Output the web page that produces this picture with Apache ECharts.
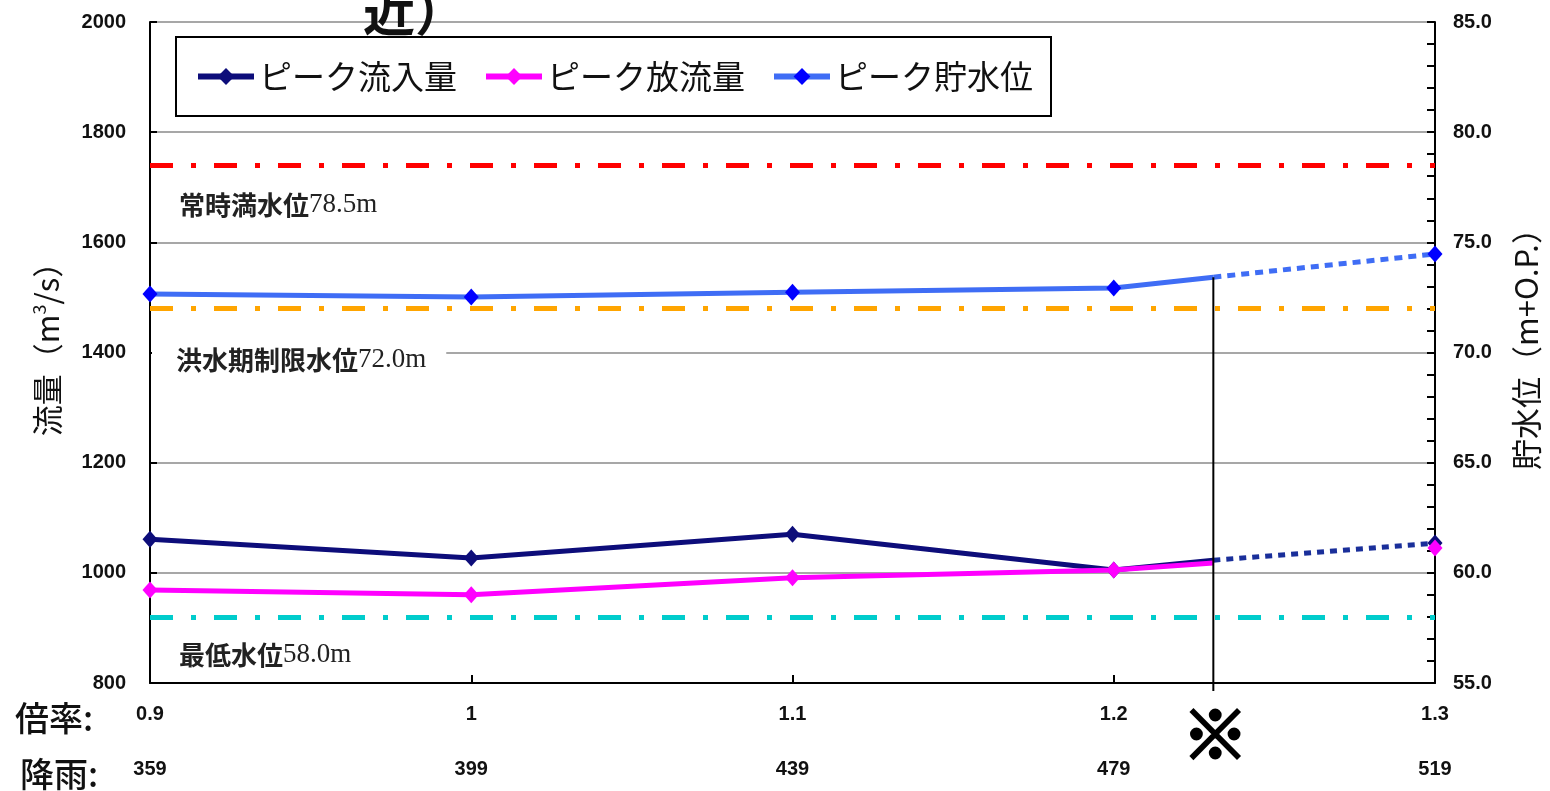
<!DOCTYPE html>
<html>
<head>
<meta charset="utf-8">
<script src="https://cdn.jsdelivr.net/npm/echarts@6/dist/echarts.min.js"></script>
<style>
  html, body { margin: 0; padding: 0; background: #fff; }
  #chart { width: 1550px; height: 791px; }
</style>
</head>
<body>
<div id="chart"></div>
<script>
// Rainfall multiplier ticks and the matching rainfall totals
const ratioTicks = [0.9, 1.0, 1.1, 1.2, 1.3];
const rainfallTicks = [359, 399, 439, 479, 519];

// Points along the x axis; index 4 is the ※ limit case
const xPoints = [0.9, 1.0, 1.1, 1.2, 1.231, 1.3];
const limitIndex = 4;

// Peak values (m3/s for flows, m+O.P. for reservoir level)
const inflowPeak  = [1061, 1027, 1070, 1005, 1023, 1054];
const outflowPeak = [969, 960, 991, 1005, 1018, 1045];
const levelPeak   = [72.65, 72.52, 72.74, 72.93, 73.42, 74.47];

// Reference water levels
const refNames  = ['常時満水位', '洪水期制限水位', '最低水位'];
const refLevels = [78.5, 72.0, 58.0];
const refColors = ['#ff0000', '#ffa500', '#00cccc'];

const seriesNames = ['ピーク流入量', 'ピーク放流量', 'ピーク貯水位'];

const NUM_FONT = '"Liberation Sans Narrow", "Liberation Sans", Arial, sans-serif';
const JP_FONT = '"Noto Sans CJK JP", "Noto Sans", sans-serif';

function solidPart(vals) {
  return xPoints.slice(0, limitIndex + 1).map((x, i) => (
    i === limitIndex ? { value: [x, vals[i]], symbol: 'none' } : { value: [x, vals[i]] }
  ));
}
function dottedPart(vals) {
  return [
    { value: [xPoints[limitIndex], vals[limitIndex]], symbol: 'none' },
    { value: [xPoints[limitIndex + 1], vals[limitIndex + 1]] }
  ];
}

// label offsets below each reference line
const refLabelGap = [18, 30, 17];

const refMarkLines = refLevels.map((lv, i) => ({
  yAxis: lv,
  lineStyle: { color: refColors[i], width: 5, type: [23, 18, 5, 18] },
  label: {
    show: true,
    position: 'insideStartBottom',
    distance: [2, refLabelGap[i]],
    formatter: '{a|' + refNames[i] + '}{b|' + lv.toFixed(1) + 'm}',
    backgroundColor: i === 1 ? '#ffffff' : 'transparent',
    padding: [8, 20, 8, i === 1 ? 24 : 27],
    rich: {
      a: { fontFamily: JP_FONT, fontWeight: 'bold', fontSize: 26, color: '#222' },
      b: { fontFamily: '"Liberation Serif", "Times New Roman", serif', fontSize: 27, color: '#222' }
    }
  }
}));

const lineColors = {
  inflow: '#0d0d7a',
  outflow: '#ff00ff',
  levelLine: '#3f6df5',
  levelMark: '#0000ff'
};

const option = {
  animation: false,
  backgroundColor: '#ffffff',
  grid: { left: 150, right: 113, top: 22, bottom: 108, containLabel: false },
  legend: {
    data: seriesNames,
    left: 176,
    top: 37,
    orient: 'horizontal',
    borderColor: '#000',
    borderWidth: 2,
    padding: [23, 18, 23, 19],
    itemWidth: 56,
    itemHeight: 21,
    itemGap: 26,
    lineStyle: { width: 6 },
    backgroundColor: '#fff',
    textStyle: { fontFamily: JP_FONT, fontSize: 33, color: '#111' }
  },
  xAxis: {
    type: 'value',
    min: 0.9,
    max: 1.3,
    interval: 0.1,
    axisLine: { show: true, lineStyle: { color: '#000', width: 2 } },
    axisTick: { show: true, inside: true, length: 8, lineStyle: { color: '#000', width: 2 } },
    splitLine: { show: false },
    axisLabel: {
      margin: 8,
      formatter: function (v) {
        const i = ratioTicks.findIndex(t => Math.abs(t - v) < 1e-6);
        if (i < 0) return '';
        const r = Math.abs(v - 1) < 1e-6 ? '1' : v.toFixed(1);
        return '{r|' + r + '}\n{p|' + rainfallTicks[i] + '}';
      },
      rich: {
        r: { fontFamily: NUM_FONT, fontWeight: 'bold', fontSize: 20, color: '#111', lineHeight: 46 },
        p: { fontFamily: NUM_FONT, fontWeight: 'bold', fontSize: 20, color: '#111', lineHeight: 64 }
      }
    }
  },
  yAxis: [
    {
      type: 'value',
      min: 800,
      max: 2000,
      interval: 200,
      position: 'left',
      name: '流量（m{sup|3}/s）',
      nameLocation: 'middle',
      nameRotate: 90,
      nameGap: 86,
      nameTextStyle: {
        fontFamily: JP_FONT, fontSize: 31, color: '#111',
        padding: [0, 0, 0, 22],
        rich: { sup: { fontSize: 18, padding: [0, 0, 16, 0], fontFamily: JP_FONT } }
      },
      axisLine: { show: true, lineStyle: { color: '#000', width: 2 } },
      axisTick: { show: true, inside: true, length: 7, lineStyle: { color: '#000', width: 2 } },
      splitLine: { show: true, lineStyle: { color: '#8a8a8a', width: 1.5 } },
      axisLabel: {
        margin: 24, fontFamily: NUM_FONT, fontWeight: 'bold', fontSize: 20, color: '#111',
        formatter: v => String(v)
      }
    },
    {
      type: 'value',
      min: 55,
      max: 85,
      interval: 5,
      position: 'right',
      name: '貯水位（m+O.P.）',
      nameLocation: 'middle',
      nameRotate: 90,
      nameGap: 76,
      nameTextStyle: { fontFamily: JP_FONT, fontSize: 31, color: '#111', padding: [0, 0, 0, 22] },
      axisLine: { show: true, lineStyle: { color: '#000', width: 2 } },
      axisTick: { show: true, inside: true, length: 8, lineStyle: { color: '#000', width: 2 } },
      minorTick: { show: true, splitNumber: 5, length: 8, lineStyle: { color: '#000', width: 2 } },
      splitLine: { show: false },
      axisLabel: {
        margin: 18, fontFamily: NUM_FONT, fontWeight: 'bold', fontSize: 20, color: '#111',
        formatter: v => v.toFixed(1)
      }
    }
  ],
  series: [
    {
      name: seriesNames[0], type: 'line', yAxisIndex: 0, z: 4,
      data: solidPart(inflowPeak),
      symbol: 'diamond', symbolSize: [15, 17],
      lineStyle: { color: lineColors.inflow, width: 5 },
      itemStyle: { color: lineColors.inflow }
    },
    {
      name: seriesNames[1], type: 'line', yAxisIndex: 0, z: 5,
      data: solidPart(outflowPeak),
      symbol: 'diamond', symbolSize: [15, 17],
      lineStyle: { color: lineColors.outflow, width: 5 },
      itemStyle: { color: lineColors.outflow }
    },
    {
      name: seriesNames[2], type: 'line', yAxisIndex: 1, z: 4,
      data: solidPart(levelPeak),
      symbol: 'diamond', symbolSize: [15, 17],
      lineStyle: { color: lineColors.levelLine, width: 5 },
      itemStyle: { color: lineColors.levelMark },
      markLine: { silent: true, symbol: 'none', z: 3, data: refMarkLines }
    },
    {
      name: seriesNames[0], type: 'line', yAxisIndex: 0, z: 4,
      data: dottedPart(inflowPeak),
      symbol: 'diamond', symbolSize: [15, 17],
      lineStyle: { color: '#1a2f9a', width: 5, type: [7, 6] },
      itemStyle: { color: lineColors.inflow }
    },
    {
      name: seriesNames[1], type: 'line', yAxisIndex: 0, z: 6,
      data: dottedPart(outflowPeak),
      symbol: 'diamond', symbolSize: [15, 17],
      lineStyle: { color: lineColors.outflow, width: 5, opacity: 0 },
      itemStyle: { color: lineColors.outflow }
    },
    {
      name: seriesNames[2], type: 'line', yAxisIndex: 1, z: 4,
      data: dottedPart(levelPeak),
      symbol: 'diamond', symbolSize: [15, 17],
      lineStyle: { color: lineColors.levelLine, width: 5, type: [8, 6] },
      itemStyle: { color: lineColors.levelMark }
    }
  ]
};

const chart = echarts.init(document.getElementById('chart'), null, { renderer: 'canvas' });
chart.setOption(option);

// Limit marker: vertical line from the reservoir level down past the x axis, plus ※ and row captions
const limitTop = chart.convertToPixel({ seriesIndex: 2 }, [xPoints[limitIndex], levelPeak[limitIndex]]);
const limitBase = chart.convertToPixel({ seriesIndex: 2 }, [xPoints[limitIndex], 55]);
chart.setOption({
  graphic: [
    {
      type: 'line', z: 10,
      shape: { x1: limitTop[0], y1: limitTop[1], x2: limitBase[0], y2: limitBase[1] + 8 },
      style: { stroke: '#000', lineWidth: 2 }
    },
    {
      type: 'text', x: limitBase[0] + 2, y: limitBase[1] + 51, z: 10,
      style: {
        text: '※', fontFamily: JP_FONT, fontWeight: 'bold', fontSize: 66, fill: '#000',
        stroke: '#000', lineWidth: 3, align: 'center', verticalAlign: 'middle'
      }
    },
    {
      type: 'text', x: 15, y: 718,
      style: { text: '倍率:', fontFamily: JP_FONT, fontWeight: 500, fontSize: 34, fill: '#111', verticalAlign: 'middle' }
    },
    {
      type: 'text', x: 20, y: 774,
      style: { text: '降雨:', fontFamily: JP_FONT, fontWeight: 500, fontSize: 34, fill: '#111', verticalAlign: 'middle' }
    },
    {
      type: 'text', x: 363, y: 37,
      style: { text: '近）', fontFamily: JP_FONT, fontWeight: 'bold', fontSize: 52, fill: '#111', verticalAlign: 'bottom' }
    }
  ]
});
</script>
</body>
</html>
